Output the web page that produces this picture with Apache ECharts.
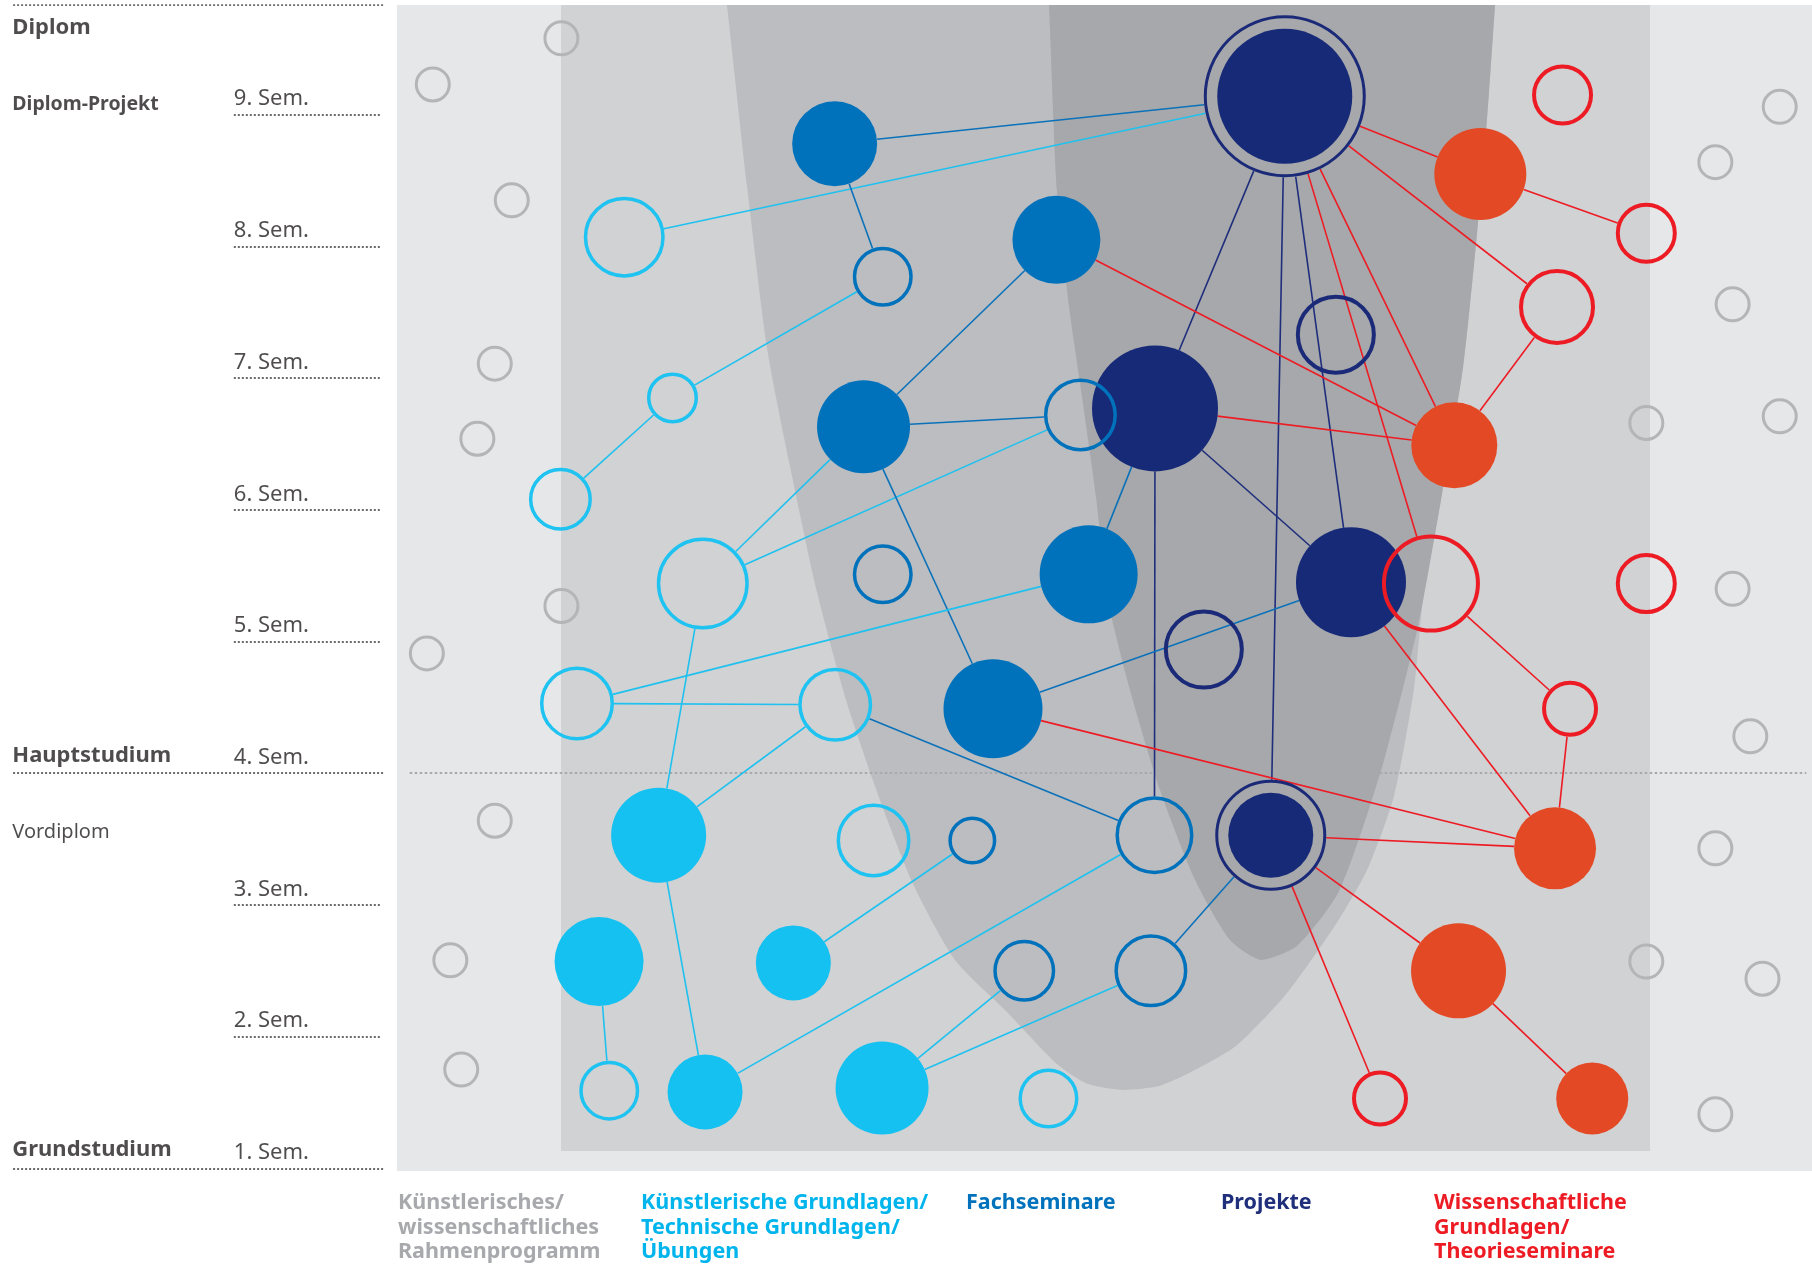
<!DOCTYPE html>
<html>
<head>
<meta charset="utf-8">
<title>Studienverlauf</title>
<script src="https://cdn.jsdelivr.net/npm/echarts@6.0.0/dist/echarts.min.js"></script>
<style>
  html, body { margin: 0; padding: 0; background: #fff; }
  #chart { width: 1812px; height: 1264px; }
</style>
</head>
<body>
<div id="chart"></div>
<script>
// x: Lage im Raster (0–100), y: Semester, w: Gewicht (Kreisdurchmesser)
const semesters = [1, 2, 3, 4, 5, 6, 7, 8, 9];

const categoryNames = [
  'Künstlerisches/\nwissenschaftliches\nRahmenprogramm',
  'Künstlerische Grundlagen/\nTechnische Grundlagen/\nÜbungen',
  'Fachseminare',
  'Projekte',
  'Wissenschaftliche\nGrundlagen/\nTheorieseminare'
];

// [id, x, semester, w]
const rahmenNodes = [
  ['g1', 11.62, 9.58, 36], ['g2', 2.53, 9.23, 36], ['g3', 8.11, 8.35, 36], ['g4', 6.91, 7.11, 36],
  ['g5', 5.68, 6.54, 36], ['g6', 11.62, 5.27, 36], ['g7', 2.11, 4.91, 36], ['g8', 6.91, 3.64, 36],
  ['g9', 3.77, 2.58, 36], ['g10', 4.54, 1.75, 36], ['g11', 97.72, 9.06, 36], ['g12', 93.17, 8.64, 36],
  ['g13', 94.39, 7.56, 36], ['g14', 97.72, 6.71, 36], ['g15', 88.29, 6.66, 36], ['g16', 94.39, 5.40, 36],
  ['g17', 95.64, 4.28, 36], ['g18', 93.17, 3.43, 36], ['g19', 88.29, 2.57, 36], ['g20', 96.50, 2.44, 36],
  ['g21', 93.17, 1.41, 36]
];
const grundFilled = [
  ['S', 18.49, 3.53, 95], ['T', 14.28, 2.57, 89], ['U', 28.01, 2.56, 75], ['V', 21.77, 1.58, 75], ['W', 34.28, 1.61, 93]
];
const grundOpen = [
  ['X', 16.06, 8.07, 81], ['Y', 19.47, 6.85, 51], ['Z', 11.55, 6.08, 63], ['AA', 21.61, 5.44, 92],
  ['AB', 12.72, 4.53, 74], ['AC', 30.97, 4.52, 74], ['AD', 33.68, 3.49, 74], ['AE', 15.00, 1.59, 60],
  ['AF', 46.04, 1.53, 60]
];
const fachFilled = [
  ['A', 30.93, 8.78, 85], ['B', 46.60, 8.05, 88], ['C', 32.97, 6.63, 93], ['D', 48.88, 5.51, 98], ['E', 42.12, 4.49, 99]
];
const fachOpen = [
  ['F', 34.33, 7.77, 60], ['G', 48.30, 6.72, 73], ['H', 34.33, 5.51, 60], ['I', 40.66, 3.49, 48],
  ['J', 53.53, 3.53, 78], ['K', 44.33, 2.50, 62], ['L', 53.28, 2.50, 73]
];
const projektFilled = [
  ['M', 62.74, 9.14, 135], ['N', 53.57, 6.77, 126], ['O', 67.42, 5.45, 110], ['P', 61.75, 3.53, 85]
];
const projektOpen = [
  ['Q', 66.35, 7.33, 80], ['R', 57.02, 4.94, 80]
];
const projektRings = [
  ['M', 62.74, 9.14, 162], ['P', 61.75, 3.53, 111]
];
const theorieFilled = [
  ['AG', 76.56, 8.55, 92], ['AH', 74.72, 6.49, 86], ['AI', 81.84, 3.43, 82], ['AJ', 75.02, 2.50, 95], ['AK', 84.47, 1.53, 72]
];
const theorieOpen = [
  ['AL', 82.37, 9.15, 61], ['AM', 88.29, 8.10, 61], ['AN', 81.98, 7.54, 76], ['AO', 73.07, 5.44, 98],
  ['AP', 88.29, 5.44, 61], ['AQ', 82.90, 4.49, 56], ['AR', 69.47, 1.53, 56]
];

// Verbindungen: [von, nach, Art]
const edgeKinds = ['grund', 'fach', 'projekt', 'theorie'];
const links = [
  ['M', 'A', 'fach'], ['M', 'X', 'grund'], ['M', 'N', 'projekt'], ['M', 'P', 'projekt'], ['M', 'O', 'projekt'],
  ['M', 'AG', 'theorie'], ['M', 'AN', 'theorie'], ['M', 'AH', 'theorie'], ['M', 'AO', 'theorie'],
  ['AG', 'AM', 'theorie'], ['AN', 'AH', 'theorie'], ['B', 'AH', 'theorie'], ['N', 'AH', 'theorie'],
  ['A', 'F', 'fach'], ['F', 'Y', 'grund'], ['Y', 'Z', 'grund'],
  ['B', 'C', 'fach'], ['C', 'G', 'fach'], ['C', 'AA', 'grund'], ['G', 'AA', 'grund'], ['C', 'E', 'fach'],
  ['D', 'N', 'fach'], ['N', 'J', 'projekt'], ['N', 'O', 'projekt'], ['O', 'E', 'fach'], ['O', 'AI', 'theorie'],
  ['AO', 'AQ', 'theorie'], ['AQ', 'AI', 'theorie'], ['E', 'AI', 'theorie'],
  ['P', 'AI', 'theorie'], ['P', 'AJ', 'theorie'], ['P', 'AR', 'theorie'], ['AJ', 'AK', 'theorie'], ['P', 'L', 'fach'],
  ['J', 'AC', 'fach'], ['J', 'V', 'grund'], ['D', 'AB', 'grund'], ['AB', 'AC', 'grund'], ['AC', 'S', 'grund'],
  ['AA', 'S', 'grund'], ['S', 'V', 'grund'], ['T', 'AE', 'grund'], ['U', 'I', 'grund'], ['W', 'K', 'grund'], ['W', 'L', 'grund']
];

// Hintergrundflächen (x, Semester)
const outerBand = [[0, 0.98], [100, 9.833]];
const innerBand = [[11.59, 1.131], [88.55, 9.833]];
const outerArc = [
  [23.32, 9.833], [24.73, 8.466], [26.15, 7.229], [27.77, 6.333], [29.68, 5.376], [31.80, 4.533],
  [34.13, 3.797], [36.54, 3.143], [39.43, 2.582], [43.04, 2.194], [46.64, 1.792], [48.83, 1.640],
  [51.38, 1.595], [53.85, 1.625], [55.69, 1.708], [59.29, 1.929], [62.90, 2.331], [66.50, 2.878],
  [68.62, 3.280], [70.46, 3.827], [71.87, 4.639], [72.51, 5.315], [73.78, 6.074], [75.34, 7.084],
  [76.33, 8.102], [76.96, 8.861], [77.60, 9.833]
];
const innerArc = [
  [46.08, 9.833], [46.64, 8.421], [47.49, 7.547], [48.27, 6.963], [49.40, 6.097], [50.25, 5.315],
  [51.80, 4.632], [53.92, 3.872], [56.40, 3.189], [58.87, 2.733], [61.06, 2.582], [63.60, 2.688],
  [66.43, 3.075], [68.20, 3.569], [69.82, 4.123], [72.16, 5.118], [73.78, 6.074], [75.34, 7.084],
  [76.33, 8.102], [76.96, 8.861], [77.60, 9.833]
];

// Beschriftung links
const phaseLabels = [['Diplom', 9.66], ['Hauptstudium', 4.13], ['Grundstudium', 1.14]];
const stageLabels = [['Diplom-Projekt', 9.08], ['Vordiplom', 3.555]];
const phaseRules = [9.833, 4, 1];

const fillColor = ['#b4b5b7', '#14c1f1', '#0072bc', '#172a78', '#e34924'];
const strokeColor = ['#b4b5b7', '#1ec3f1', '#0072bc', '#1b2a78', '#ed1c24'];
const edgeColor = ['#1fc1ef', '#0b72ba', '#1f2e7c', '#ed1c24'];
const legendColor = ['#a7a9ac', '#00b4ec', '#0072bc', '#1f2f7b', '#ed1c24'];
const legendLeft = [393, 636, 961, 1216, 1429];

var myChart = echarts.init(document.getElementById('chart'));

// Knoten nachschlagen (Radius für Kantenenden)
const nodeMap = {};
[rahmenNodes, grundFilled, grundOpen, fachFilled, fachOpen, projektFilled, projektOpen, theorieFilled, theorieOpen]
  .forEach(list => list.forEach(n => { nodeMap[n[0]] = { x: n[1], y: n[2], r: n[3] / 2 }; }));
projektRings.forEach(n => { nodeMap[n[0]].r = n[3] / 2; });

const edgeData = links.map(([a, b, kind]) => {
  const na = nodeMap[a], nb = nodeMap[b];
  return [na.x, na.y, nb.x, nb.y, na.r, nb.r, edgeKinds.indexOf(kind)];
});

function toItems(list) {
  return list.map(n => ({ name: n[0], value: [n[1], n[2], n[3]] }));
}

function filledSeries(cat, list) {
  return {
    type: 'scatter', name: categoryNames[cat], z: 3,
    data: toItems(list),
    symbolSize: v => v[2],
    itemStyle: { color: fillColor[cat], opacity: 1 },
    emphasis: { disabled: true }
  };
}
function openSeries(cat, list, bw) {
  return {
    type: 'scatter', name: categoryNames[cat], z: 4,
    data: toItems(list),
    symbolSize: v => v[2] - bw,
    itemStyle: { color: 'rgba(0,0,0,0)', borderColor: strokeColor[cat], borderWidth: bw, opacity: 1 },
    emphasis: { disabled: true }
  };
}

function renderBackdrop(params, api) {
  function rect(band, fill) {
    const a = api.coord(band[0]), b = api.coord(band[1]);
    return { type: 'rect', shape: { x: Math.min(a[0], b[0]), y: Math.min(a[1], b[1]),
      width: Math.abs(b[0] - a[0]), height: Math.abs(b[1] - a[1]) }, style: { fill: fill } };
  }
  function arc(pts, fill) {
    const px = pts.map(p => api.coord(p));
    const all = [px[0]].concat(px, [px[px.length - 1]]);
    const xs = all.map(p => p[0]), ys = all.map(p => p[1]);
    return { type: 'polygon', shape: { points: all, smooth: 0.22,
      smoothConstraint: [[Math.min(...xs), Math.min(...ys)], [Math.max(...xs), Math.max(...ys)]] },
      style: { fill: fill } };
  }
  return { type: 'group', children: [
    rect(outerBand, '#e6e7e8'), rect(innerBand, '#d1d2d4'),
    arc(outerArc, '#bcbdc1'), arc(innerArc, '#a7a8ab')
  ] };
}

function renderEdge(params, api) {
  const p1 = api.coord([api.value(0), api.value(1)]);
  const p2 = api.coord([api.value(2), api.value(3)]);
  const dx = p2[0] - p1[0], dy = p2[1] - p1[1];
  const len = Math.sqrt(dx * dx + dy * dy);
  const ux = dx / len, uy = dy / len;
  const r1 = api.value(4), r2 = api.value(5);
  return { type: 'line',
    shape: { x1: p1[0] + ux * r1, y1: p1[1] + uy * r1, x2: p2[0] - ux * r2, y2: p2[1] - uy * r2 },
    style: { stroke: edgeColor[api.value(6)], lineWidth: 1.6 } };
}

const textFont = 'Noto Sans';

var option = {
  animation: false,
  grid: [
    { left: 397, right: 0, top: 5, bottom: 93 },
    { left: 0, width: 397, top: 5, bottom: 93 }
  ],
  xAxis: [
    { gridIndex: 0, type: 'value', min: 0, max: 100, show: false },
    { gridIndex: 1, type: 'value', min: 0, max: 100, show: false }
  ],
  yAxis: [
    { gridIndex: 0, type: 'value', min: 0.98, max: 9.833, show: false },
    { gridIndex: 1, type: 'value', min: 0.98, max: 9.833, show: false }
  ],
  legend: categoryNames.map((name, i) => ({
    data: [{ name: name, textStyle: { color: legendColor[i] } }],
    left: legendLeft[i], top: 1191, padding: 0,
    icon: 'none', itemWidth: 0, itemHeight: 10,
    textStyle: { fontFamily: textFont, fontWeight: 'bold', fontSize: 21.5, lineHeight: 24.5 }
  })),
  series: [
    { type: 'custom', z: 0, silent: true, renderItem: renderBackdrop, data: [[0, 0]], clip: true },
    {
      type: 'lines', coordinateSystem: 'cartesian2d', z: 1, silent: true,
      data: [{ coords: [[0.9, 4], [99.6, 4]] }],
      lineStyle: { color: '#a7a9ac', width: 2, type: [2.5, 2.5], opacity: 1 }
    },
    {
      type: 'custom', z: 2, silent: true, renderItem: renderEdge,
      encode: { x: [0, 2], y: [1, 3] }, data: edgeData
    },
    openSeries(0, rahmenNodes, 3),
    filledSeries(1, grundFilled),
    filledSeries(2, fachFilled),
    filledSeries(3, projektFilled),
    filledSeries(4, theorieFilled),
    openSeries(1, grundOpen, 3.5),
    openSeries(2, fachOpen, 3.5),
    openSeries(3, projektOpen, 4),
    openSeries(3, projektRings, 3),
    openSeries(4, theorieOpen, 4),
    // linke Beschriftung
    {
      type: 'lines', coordinateSystem: 'cartesian2d', xAxisIndex: 1, yAxisIndex: 1, silent: true,
      data: semesters.filter(s => phaseRules.indexOf(s) < 0).map(s => ({ coords: [[58.9, s], [95.9, s]] }))
        .concat(phaseRules.map(s => ({ coords: [[3.3, s], [96.5, s]] }))),
      lineStyle: { color: '#3a3a3a', width: 1.5, type: [2, 2], opacity: 1 }
    },
    {
      type: 'scatter', xAxisIndex: 1, yAxisIndex: 1, symbolSize: 0, silent: true,
      data: semesters.map(s => ({ name: s + '. Sem.', value: [58.9, s + 0.118] })),
      label: { show: true, position: 'right', distance: 0, formatter: '{b}',
        fontFamily: textFont, fontSize: 22, color: '#231f20' }
    },
    {
      type: 'scatter', xAxisIndex: 1, yAxisIndex: 1, symbolSize: 0, silent: true,
      data: phaseLabels.map(p => ({ name: p[0], value: [3.1, p[1]] })),
      label: { show: true, position: 'right', distance: 0, formatter: '{b}',
        fontFamily: textFont, fontSize: 22, fontWeight: 'bold', color: '#231f20' }
    },
    {
      type: 'scatter', xAxisIndex: 1, yAxisIndex: 1, symbolSize: 0, silent: true,
      data: stageLabels.map((p, i) => ({ name: p[0], value: [3.1, p[1]],
        label: { fontWeight: i === 0 ? 'bold' : 'normal', fontSize: i === 0 ? 19.5 : 20 } })),
      label: { show: true, position: 'right', distance: 0, formatter: '{b}',
        fontFamily: textFont, fontSize: 20, color: '#231f20' }
    }
  ]
};

myChart.setOption(option);
</script>
</body>
</html>
